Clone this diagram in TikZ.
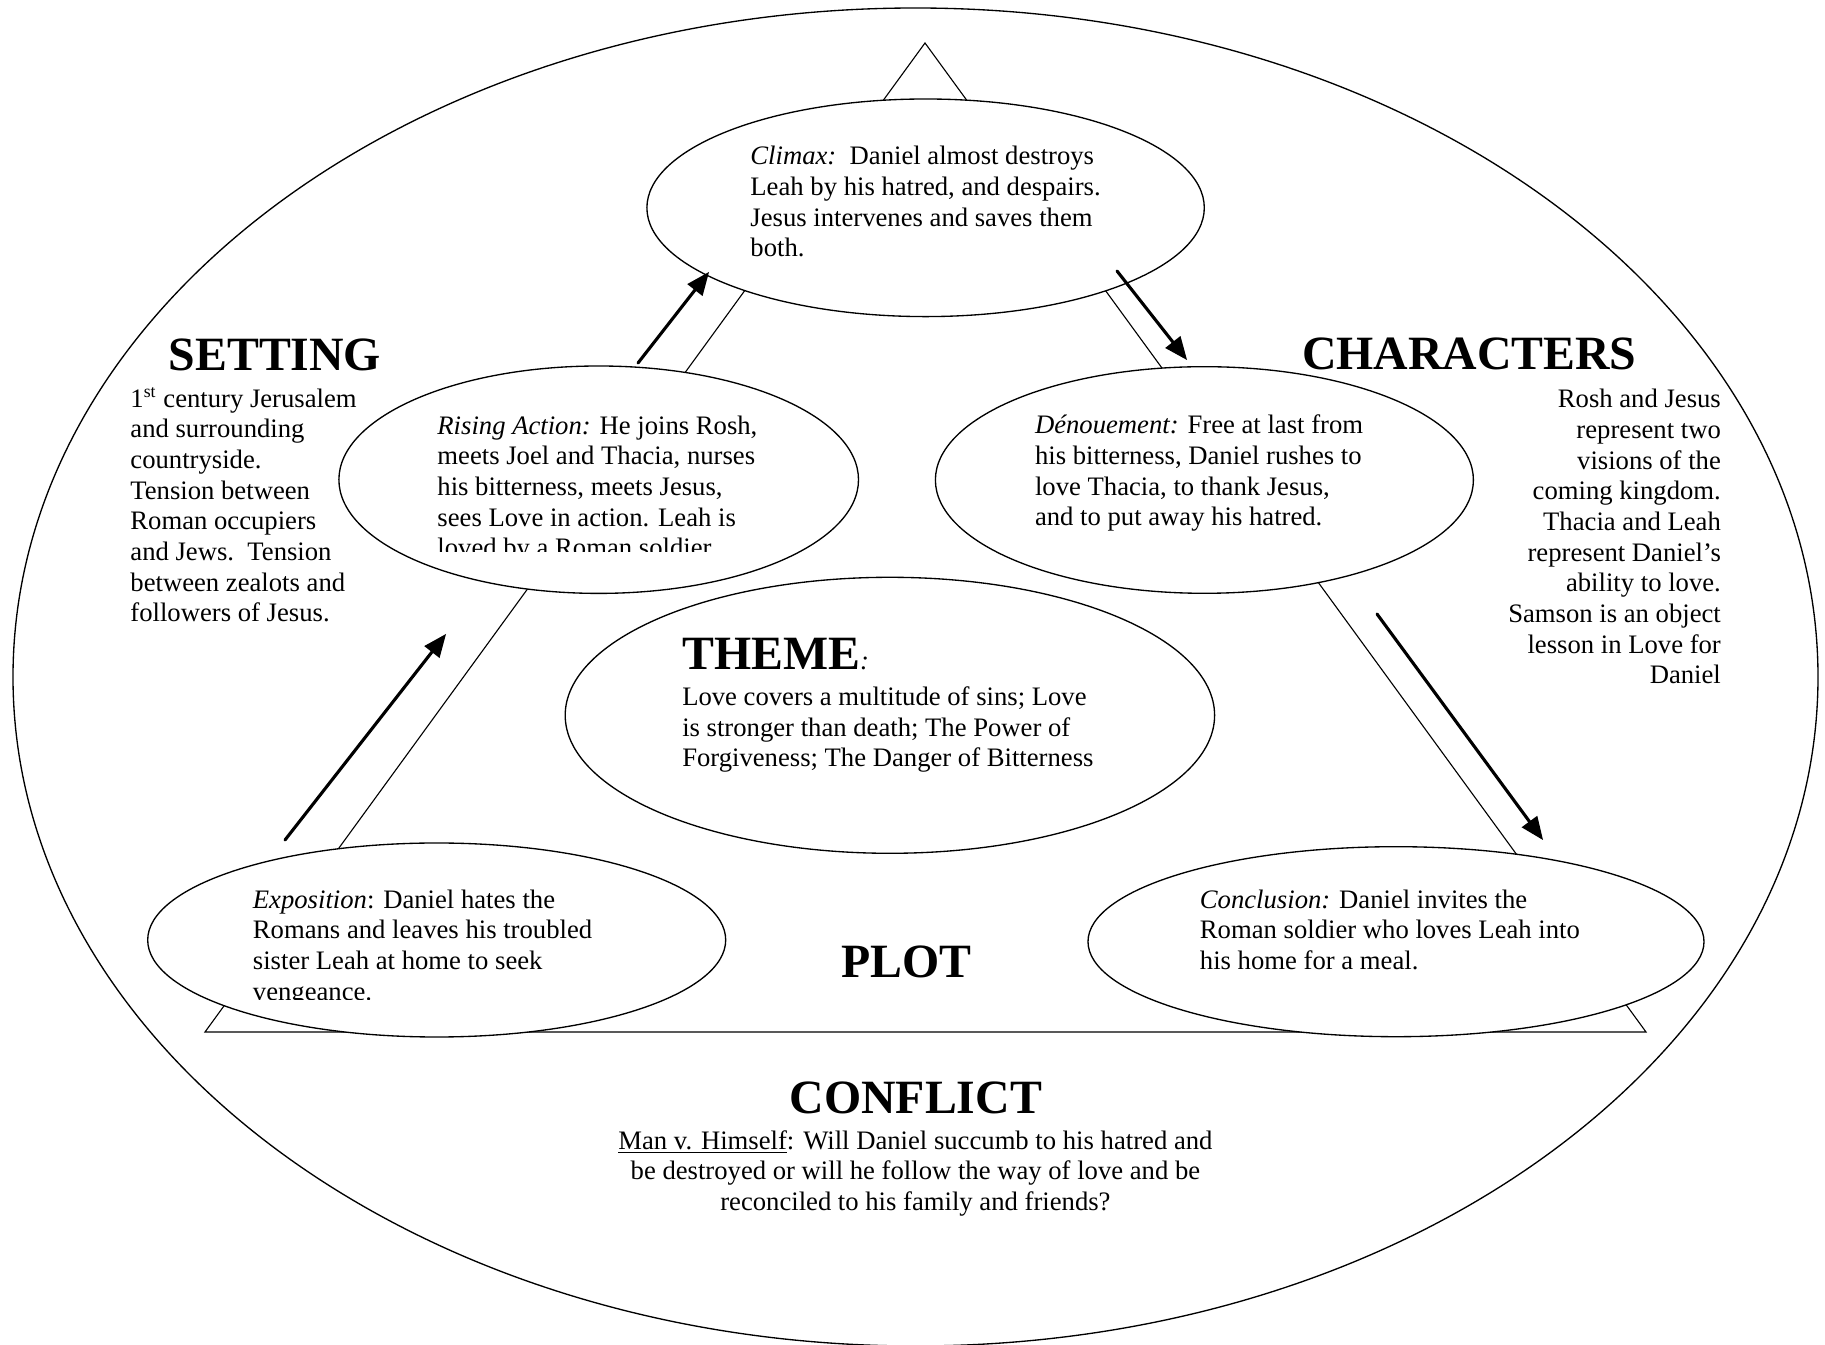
\documentclass[tikz,border=0pt]{standalone}
\usepackage{fontspec}
\setmainfont{Liberation Serif}
\usetikzlibrary{arrows}
\usetikzlibrary{shapes.geometric}

\begin{document}
\begin{tikzpicture}[line cap=round,line join=round,>=triangle 45,x=0.45pt,y=-0.45pt,
  bubble/.style 2 args={ellipse,draw,line width=0.6pt,fill=white,inner sep=0pt,
    minimum width=#1*0.9pt,minimum height=#2*0.9pt},
  flow/.style={->,line width=1.4pt},
  txt/.style={anchor=base west,align=left,inner sep=0pt,font=\fontsize{12}{13.8}\selectfont},
  head/.style={anchor=base west,inner sep=0pt,font=\fontsize{21.5}{24}\selectfont\bfseries}]
\useasboundingbox (0,0) rectangle (1825,1345);
\node [bubble={902.5}{669}] (frame) at (915.5,677) {};
\coordinate (apex) at (925,43);
\coordinate (bl) at (205,1032);
\coordinate (br) at (1646,1032);
\draw [line width=0.5pt,line join=miter] (apex)--(br)--(bl)--cycle;
\node [bubble={278.7}{108.8}] (climax) at (925.6,207.8) {};
\node [bubble={259.8}{113.7}] (rising) at (598.7,479.7) {};
\node [bubble={269}{113.3}] (denoue) at (1204.4,480) {};
\node [bubble={324.7}{138}] (theme) at (889.9,715.3) {};
\node [bubble={289}{97}] (expo) at (436.7,940) {};
\node [bubble={308}{95}] (concl) at (1396,941.7) {};
% texts inside the bubbles (placed at the baseline of the last line)
\node [txt] (climaxtxt) at (750,257) {{\itshape Climax:}\ \ Daniel almost destroys\\Leah by his hatred, and despairs.\\Jesus intervenes and saves them\\both.};
\begin{scope}
\clip (330,380) rectangle (870,552);
\node [txt] (risingtxt) at (437,556.7) {{\itshape Rising Action:} He joins Rosh,\\meets Joel and Thacia, nurses\\his bitterness, meets Jesus,\\sees Love in action. Leah is\\loved by a Roman soldier.};
\end{scope}
\node [txt] (denouetxt) at (1034.6,526) {{\itshape Dénouement:} Free at last from\\his bitterness, Daniel rushes to\\love Thacia, to thank Jesus,\\and to put away his hatred.};
\node [head] (themehd) at (681.8,669.3) {THEME{\fontsize{12}{13.8}\selectfont\mdseries\itshape :}};
\node [txt] (themetxt) at (681.8,767) {Love covers a multitude of sins; Love\\is stronger than death; The Power of\\Forgiveness; The Danger of Bitterness};
\begin{scope}
\clip (140,860) rectangle (730,1000);
\node [txt] (expotxt) at (252.5,1000.3) {{\itshape Exposition}: Daniel hates the\\Romans and leaves his troubled\\sister Leah at home to seek\\vengeance.};
\end{scope}
\node [txt] (concltxt) at (1199.5,969.6) {{\itshape Conclusion:} Daniel invites the\\Roman soldier who loves Leah into\\his home for a meal.};
% the outer labels
\node [head] (settinghd) at (168.3,370.7) {SETTING};
\node [txt] (settingtxt) at (130,622) {1\textsuperscript{st} century Jerusalem\\and surrounding\\countryside.\\Tension between\\Roman occupiers\\and Jews.\ \ Tension\\between zealots and\\followers of Jesus.};
\node [head] (charhd) at (1301.6,370) {CHARACTERS};
\node [txt,anchor=base east,align=right] (chartxt) at (1721.3,684) {Rosh and Jesus\\represent two\\visions of the\\coming kingdom.\\Thacia and Leah\\represent Daniel’s\\ability to love.\\Samson is an object\\lesson in Love for\\Daniel};
\node [head,anchor=base] (plothd) at (906.5,977.3) {PLOT};
\node [head,anchor=base] (conflicthd) at (915.8,1113.3) {CONFLICT};
\node [txt,anchor=base,align=center] (conflicttxt) at (915.4,1210.6) {\underline{Man v. Himself}: Will Daniel succumb to his hatred and\\be destroyed or will he follow the way of love and be\\reconciled to his family and friends?};
% arrows along the sides
\coordinate (a1s) at (285,840);
\coordinate (a1e) at (446,634);
\coordinate (a2s) at (638,363);
\coordinate (a2e) at (709,272);
\coordinate (a3s) at (1117,271);
\coordinate (a3e) at (1187,360);
\coordinate (a4s) at (1377,614);
\coordinate (a4e) at (1543,840);
\draw [flow] (a1s)--(a1e);
\draw [flow] (a2s)--(a2e);
\draw [flow] (a3s)--(a3e);
\draw [flow] (a4s)--(a4e);
\end{tikzpicture}
\end{document}
